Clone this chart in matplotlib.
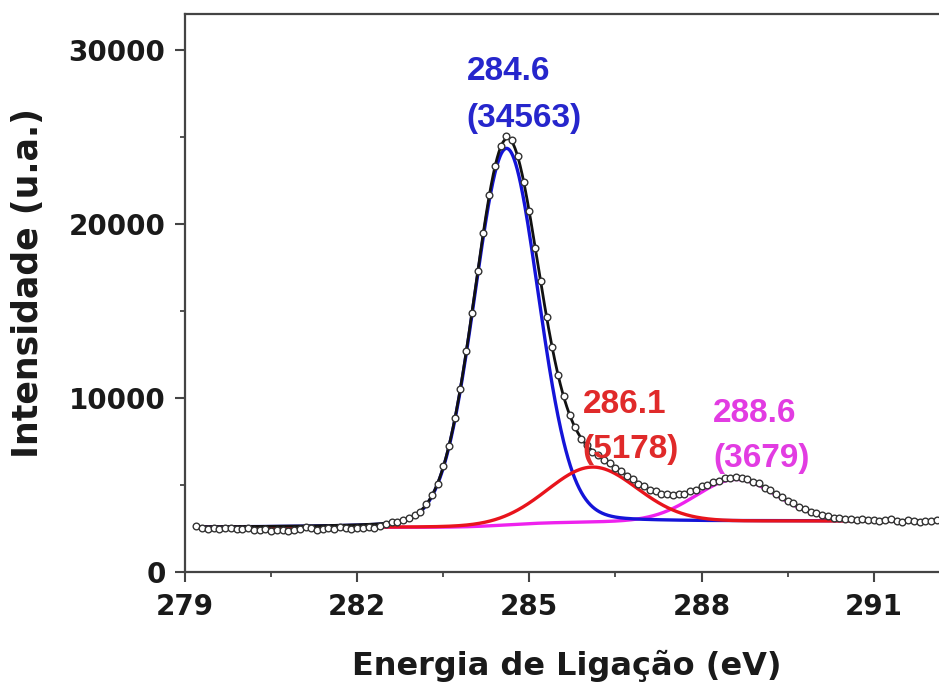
import numpy as np
import matplotlib.pyplot as plt
from matplotlib.ticker import MultipleLocator

# C 1s scan, 0.1 eV step starting at 279.2 eV
counts = [
    2620, 2530, 2480, 2540, 2470, 2510, 2530, 2490, 2450, 2520,
    2440, 2400, 2450, 2380, 2410, 2390, 2360, 2420, 2470, 2560,
    2500, 2440, 2480, 2520, 2470, 2590, 2510, 2480, 2540, 2500,
    2570, 2540, 2620, 2760, 2850, 2890, 3010, 3090, 3260, 3470,
    3890, 4420, 5050, 6080, 7220, 8840, 10520, 12700, 14860, 17300,
    19480, 21650, 23350, 24500, 25050, 24850, 23900, 22420, 20750, 18640,
    16700, 14630, 12940, 11300, 10110, 9000, 8330, 7660, 7320, 6910,
    6720, 6420, 6260, 5970, 5800, 5510, 5360, 5080, 4950, 4720,
    4640, 4480, 4490, 4400, 4500, 4510, 4660, 4720, 4920, 5000,
    5200, 5250, 5400, 5390, 5460, 5380, 5350, 5180, 5090, 4850,
    4720, 4460, 4320, 4060, 3950, 3720, 3630, 3440, 3390, 3250,
    3230, 3120, 3130, 3040, 3070, 2990, 3030, 2960, 3010, 2940,
    2990, 3020, 2950, 2900, 2970, 2930, 2880, 2950, 2910, 2960,
    2900, 2940,
]
e_start = 279.2
e_step = 0.1
energy = e_start + e_step * np.arange(len(counts))

# fitted components
peak_pos = [284.6, 286.1, 288.6]
peak_area = [34563, 5178, 3679]
peak_height = [21650, 3180, 2420]
peak_fwhm = [1.32, 1.85, 1.7]
lor_frac = 0.1
bg_left, bg_right = 2560, 2920

line_colors = ['#1414d8', '#e8141c', '#ee22ee']
text_colors = ['#2626cc', '#e02a2a', '#e23ce2']
draw_order = [2, 0, 1]   # magenta, blue, then red on top

# label anchors (left, baseline) in data units
label_x = [283.91, 285.93, 288.20]
label_y1 = [28280, 9140, 8620]
label_y2 = [25570, 6550, 6030]


def pseudo_voigt(x, c, h, w, eta):
    d = x - c
    g = np.exp(-4 * np.log(2) * d ** 2 / w ** 2)
    l = 1.0 / (1.0 + 4 * d ** 2 / w ** 2)
    return h * ((1 - eta) * g + eta * l)


xf = np.linspace(e_start, 292.8, 1400)
comps = [pseudo_voigt(xf, c, h, w, lor_frac)
         for c, h, w in zip(peak_pos, peak_height, peak_fwhm)]
total = np.sum(comps, axis=0)
cum = np.cumsum(total)
cum = cum / cum[-1]
bg = bg_left + (bg_right - bg_left) * cum  # Shirley-type step
envelope = bg + total

plt.rcParams['font.family'] = ['DejaVu Sans']
plt.rcParams['font.weight'] = 'bold'

fig = plt.figure(figsize=(9.39, 6.82), dpi=100)
ax = fig.add_axes([0.197, 0.1613, 0.8313, 0.8182])

for k, i in enumerate(draw_order):
    ax.plot(xf, bg + comps[i], color=line_colors[i], lw=2.4, zorder=2 + k * 0.1)
ax.plot(xf, envelope, color='#111111', lw=2.0, zorder=3)
ax.plot(energy, counts, 'o', ms=4.8, mfc='white', mec='#333333', mew=1.0,
        zorder=4)

for i in range(3):
    ax.text(label_x[i], label_y1[i], f'{peak_pos[i]:.1f}', color=text_colors[i],
            family=['Liberation Sans', 'DejaVu Sans'], fontsize=24,
            fontweight='bold', ha='left', va='baseline', zorder=5)
    ax.text(label_x[i], label_y2[i], f'({peak_area[i]})', color=text_colors[i],
            family=['Liberation Sans', 'DejaVu Sans'], fontsize=24,
            fontweight='bold', ha='left', va='baseline', zorder=5)

ax.set_xlim(279, 292.6)
ax.set_ylim(0, 32070)
ax.xaxis.set_major_locator(MultipleLocator(3))
ax.xaxis.set_minor_locator(MultipleLocator(1.5))
ax.yaxis.set_major_locator(MultipleLocator(10000))
ax.yaxis.set_minor_locator(MultipleLocator(5000))

for side in ['left', 'bottom', 'top', 'right']:
    ax.spines[side].set_color('#444444')
    ax.spines[side].set_linewidth(1.6)

ax.tick_params(which='major', direction='out', length=7, width=1.5,
               color='#444444', labelsize=20, labelcolor='#1a1a1a')
ax.tick_params(axis='x', which='major', pad=8)
ax.tick_params(axis='y', which='major', pad=7)
ax.tick_params(which='minor', direction='out', length=3.5, width=1.3,
               color='#444444')

fig.text(28 / 939, 1 - 283 / 682, 'Intensidade (u.a.)', rotation=90,
         ha='center', va='center', fontsize=25, fontweight='bold',
         color='#1a1a1a')
fig.text(567 / 939, 1 - 675 / 682, 'Energia de Ligação (eV)',
         ha='center', va='baseline', fontsize=23, fontweight='bold',
         color='#1a1a1a')

fig.savefig('out.png', dpi=100)
